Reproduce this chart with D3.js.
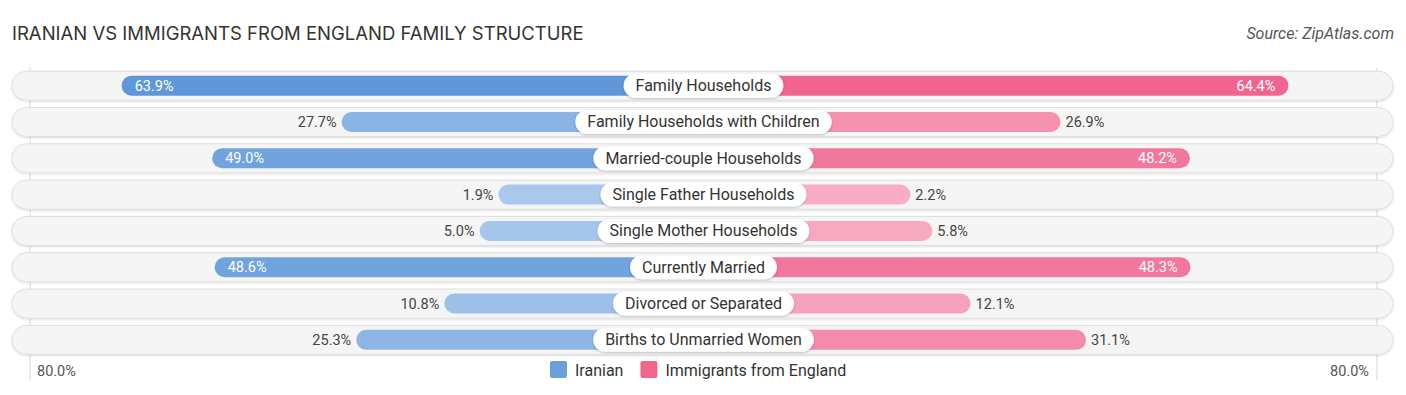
<!DOCTYPE html>
<html><head><meta charset="utf-8">
<script src="https://cdn.jsdelivr.net/npm/d3@7"></script>
<style>
body{margin:0;background:#fff;}
svg{display:block;font-family:Roboto,"Open Sans",sans-serif;}
</style></head>
<body><svg id="chart" width="1406" height="395"></svg>
<script>
const categories = ["Family Households","Family Households with Children","Married-couple Households","Single Father Households","Single Mother Households","Currently Married","Divorced or Separated","Births to Unmarried Women"];
const iranian = [63.9,27.7,49.0,1.9,5.0,48.6,10.8,25.3];
const england = [64.4,26.9,48.2,2.2,5.8,48.3,12.1,31.1];
const seriesNames = ["Iranian","Immigrants from England"];
const axisMax = 80;
const axisLabel = "80.0%";
const title = "IRANIAN VS IMMIGRANTS FROM ENGLAND FAMILY STRUCTURE";
const source = "Source: ZipAtlas.com";

const svg = d3.select("#chart");
const cx = 703.5;
// distance from center for a value
const dist = d3.scaleLinear().domain([0, axisMax]).range([193.5, 679.7]);
const y = d3.scaleBand().domain(categories).range([67, 357.5]).paddingInner(0.2).paddingOuter(0.1);

const blueCol = d3.scaleLinear().domain([0, 64]).range(["#abcaec", "#5f97d8"]);
const pinkCol = d3.scaleLinear().domain([0, 64]).range(["#f8b0c6", "#f0648f"]);

const defs = svg.append("defs");
const f = defs.append("filter").attr("id","sh").attr("x","-20%").attr("y","-40%").attr("width","140%").attr("height","180%");
f.append("feDropShadow").attr("dx",0).attr("dy",1).attr("stdDeviation",1.2).attr("flood-color","#000").attr("flood-opacity",0.25);
const f2 = defs.append("filter").attr("id","sh2").attr("x","-5%").attr("y","-40%").attr("width","110%").attr("height","180%");
f2.append("feDropShadow").attr("dx",0).attr("dy",1).attr("stdDeviation",1).attr("flood-color","#000").attr("flood-opacity",0.15);

svg.append("text").attr("x",12).attr("y",40).attr("font-size",18.5).attr("fill","#333").attr("font-family","Inter, Roboto, sans-serif").text(title);
svg.append("text").attr("x",1394).attr("y",39).attr("text-anchor","end").attr("font-size",16).attr("font-style","italic").attr("fill","#555").text(source);

[cx - dist(axisMax) + 6.3, cx + dist(axisMax) - 6.3].forEach(x => {
  svg.append("line").attr("x1",x).attr("x2",x).attr("y1",68).attr("y2",380).attr("stroke","#d8d8d8").attr("stroke-width",1);
});

const bgH = 29;
const barH = 20;

categories.forEach((c, i) => {
  const yc = y(c) + y.bandwidth()/2 + 0.5;
  const g = svg.append("g");
  g.append("rect").attr("x",12).attr("y",yc-bgH/2).attr("width",1381).attr("height",bgH).attr("rx",bgH/2)
    .attr("fill","#f5f5f5").attr("stroke","#e0e0e0").attr("stroke-width",1).attr("filter","url(#sh2)");
  const dl = dist(iranian[i]);
  g.append("rect").attr("x",cx-dl).attr("y",yc-barH/2).attr("width",dl).attr("height",barH).attr("rx",barH/2).attr("fill",blueCol(iranian[i]));
  const dr = dist(england[i]);
  g.append("rect").attr("x",cx).attr("y",yc-barH/2).attr("width",dr).attr("height",barH).attr("rx",barH/2).attr("fill",pinkCol(england[i]));
  const inL = iranian[i] > 40, inR = england[i] > 40;
  g.append("text").attr("x", inL ? cx-dl+13 : cx-dl-5).attr("y",yc+5).attr("font-size",14.5)
    .attr("text-anchor", inL ? "start" : "end").attr("fill", inL ? "#fff" : "#444").text(iranian[i].toFixed(1)+"%");
  g.append("text").attr("x", inR ? cx+dr-13 : cx+dr+5).attr("y",yc+5).attr("font-size",14.5)
    .attr("text-anchor", inR ? "end" : "start").attr("fill", inR ? "#fff" : "#444").text(england[i].toFixed(1)+"%");
  const t = g.append("text").attr("x",cx).attr("y",yc+5.5).attr("text-anchor","middle").attr("font-size",16).attr("fill","#333").text(c);
  const w = t.node().getComputedTextLength();
  g.insert("rect", "text:last-of-type").attr("x",cx-w/2-12).attr("y",yc-12).attr("width",w+24).attr("height",24).attr("rx",12)
    .attr("fill","#fff").attr("filter","url(#sh)");
  t.raise();
});

svg.append("text").attr("x",37).attr("y",376).attr("font-size",14.5).attr("fill","#555").text(axisLabel);
svg.append("text").attr("x",1369).attr("y",376).attr("text-anchor","end").attr("font-size",14.5).attr("fill","#555").text(axisLabel);

const legCol = ["#6a9fd8","#f0668f"];
const lg = svg.append("g");
let lx = 550;
seriesNames.forEach((s, i) => {
  lg.append("rect").attr("x",lx).attr("y",361).attr("width",17).attr("height",17).attr("rx",2).attr("fill",legCol[i]);
  const t = lg.append("text").attr("x",lx+25).attr("y",376).attr("font-size",16).attr("fill","#333").text(s);
  lx += 25 + t.node().getComputedTextLength() + 17;
});
</script></body></html>
